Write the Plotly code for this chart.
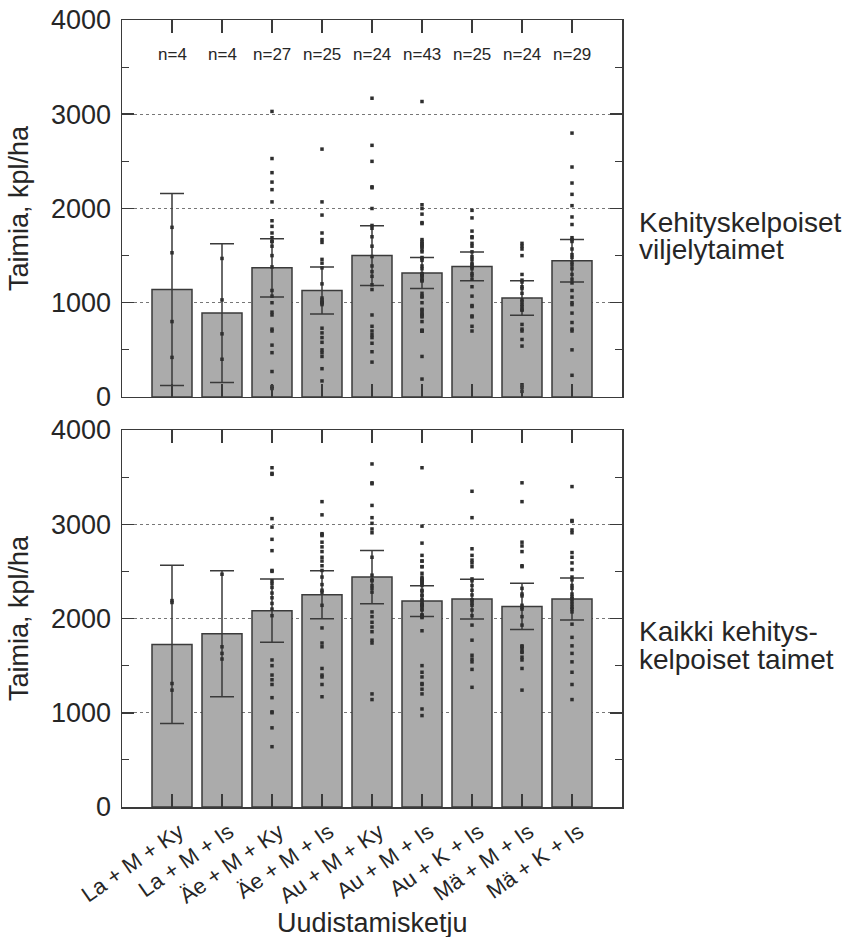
import plotly.graph_objects as go

categories = ["La + M + Ky", "La + M + Is", "Äe + M + Ky", "Äe + M + Is", "Au + M + Ky",
              "Au + M + Is", "Au + K + Is", "Mä + M + Is", "Mä + K + Is"]
n_counts = [4, 4, 27, 25, 24, 43, 25, 24, 29]

top_means = [1140, 890, 1370, 1130, 1500, 1315, 1385, 1050, 1445]
top_errors = [1018, 737, 308, 250, 316, 165, 152, 184, 226]
bottom_means = [1725, 1838, 2083, 2252, 2440, 2185, 2206, 2128, 2206]
bottom_errors = [840, 669, 335, 255, 283, 163, 211, 245, 223]

top_points = [
    [1800, 1530, 800, 420],
    [1470, 1030, 670, 400],
    [3030, 2530, 2380, 2280, 2200, 2070, 1870, 1810, 1740, 1690, 1650, 1650, 1600, 1500,
     1380, 1130, 1070, 1000, 900, 870, 720, 700, 550, 470, 270, 110, 90],
    [2630, 2070, 1930, 1740, 1670, 1640, 1420, 1370, 1200, 1050, 1030, 1010, 1000, 980,
     730, 680, 630, 580, 500, 470, 430, 300, 170, 1000, 1460],
    [3170, 2670, 2500, 2230, 2220, 2000, 1820, 1790, 1700, 1490, 1390, 1330, 1280, 1190,
     1140, 870, 750, 700, 660, 630, 570, 480, 370, 1600],
    [3135, 2040, 2000, 1940, 1850, 1840, 1670, 1650, 1630, 1600, 1590, 1560, 1540, 1480,
     1470, 1390, 1310, 1290, 1280, 1240, 1230, 1070, 1060, 930, 920, 890, 880, 860, 850,
     800, 710, 700, 700, 700, 430, 190, 1300, 1250, 1100, 1000, 1450, 1620, 1360],
    [1980, 1900, 1760, 1700, 1690, 1630, 1540, 1490, 1460, 1420, 1400, 1360, 1310, 1290,
     1170, 1070, 970, 960, 860, 850, 750, 700, 1600, 1250, 1380],
    [1630, 1600, 1570, 1500, 1300, 1240, 1170, 1150, 1100, 1030, 980, 960, 930, 920, 770,
     720, 700, 610, 540, 130, 100, 60, 1010, 1220],
    [2800, 2440, 2270, 2150, 2030, 1910, 1830, 1690, 1670, 1570, 1510, 1430, 1360, 1300,
     1210, 1130, 1060, 980, 890, 790, 700, 500, 230, 1650, 1480, 1400, 1250, 1000, 720],
]

bottom_points = [
    [2190, 2170, 1310, 1240],
    [2470, 1700, 1630, 1570],
    [3600, 3540, 3530, 3060, 2970, 2840, 2720, 2510, 2500, 2400, 2370, 2330, 2270, 2220,
     2160, 2100, 2030, 1560, 1500, 1400, 1350, 1300, 1160, 1010, 1000, 840, 640],
    [3240, 3100, 2900, 2890, 2880, 2810, 2760, 2710, 2650, 2610, 2560, 2510, 2440, 2360,
     2280, 2140, 1900, 1740, 1700, 1470, 1400, 1380, 1300, 1170, 2300],
    [3640, 3440, 3430, 3200, 3070, 3010, 2950, 2910, 2650, 2460, 2410, 2350, 2320, 2280,
     2070, 2020, 1960, 1910, 1860, 1770, 1740, 1200, 1140, 2400],
    [3600, 2980, 2800, 2670, 2610, 2610, 2550, 2550, 2480, 2440, 2410, 2400, 2380, 2370,
     2350, 2300, 2290, 2250, 2240, 2200, 2190, 2150, 2140, 2140, 2130, 2100, 2090, 2040,
     2030, 2020, 2010, 1870, 1500, 1430, 1380, 1310, 1300, 1250, 1200, 1040, 970, 2420, 2160],
    [3350, 3070, 2740, 2670, 2620, 2590, 2550, 2420, 2400, 2350, 2300, 2250, 2190, 2140,
     2090, 2030, 1930, 1770, 1610, 1570, 1540, 1460, 1270, 2200, 2160],
    [3440, 3240, 2810, 2770, 2710, 2560, 2550, 2320, 2240, 2140, 2100, 2020, 1930, 1710,
     1680, 1640, 1590, 1560, 1470, 1240, 2120, 2260, 1700, 1650],
    [3400, 3040, 3030, 2940, 2910, 2700, 2650, 2590, 2520, 2440, 2410, 2350, 2320, 2260,
     2210, 2180, 2120, 2070, 1940, 1800, 1710, 1630, 1540, 1430, 1300, 1140, 2150, 2100, 2230],
]

y_ticks = [0, 1000, 2000, 3000, 4000]
y_title = "Taimia, kpl/ha"
x_title = "Uudistamisketju"
top_label_lines = ["Kehityskelpoiset", "viljelytaimet"]
bottom_label_lines = ["Kaikki kehitys-", "kelpoiset taimet"]

FONT = "Liberation Sans, Arial, Helvetica, sans-serif"
DARK = "#3a3a3a"
TXT = "#262626"
BAR = "#ababab"

fig = go.Figure()


def add_panel(means, errors, points, xa, ya):
    fig.add_trace(go.Bar(
        x=categories, y=means, xaxis=xa, yaxis=ya, width=0.8,
        marker=dict(color=BAR, line=dict(color=DARK, width=1.5)),
        error_y=dict(type="data", array=errors, visible=True, color=DARK,
                     thickness=1.5, width=12),
        showlegend=False, hoverinfo="skip"))
    px, py = [], []
    for cat, vals in zip(categories, points):
        px += [cat] * len(vals)
        py += vals
    fig.add_trace(go.Scatter(
        x=px, y=py, xaxis=xa, yaxis=ya, mode="markers",
        marker=dict(symbol="square", size=3.5, color="#2e2e2e", line=dict(width=0)),
        showlegend=False, hoverinfo="skip"))


add_panel(top_means, top_errors, top_points, "x", "y")
add_panel(bottom_means, bottom_errors, bottom_points, "x2", "y2")

yaxis_common = dict(
    range=[0, 4000], tickvals=y_ticks, ticks="inside", ticklen=12, tickwidth=1.5,
    tickcolor=DARK, showline=True, linecolor=DARK, linewidth=1.5, mirror="ticks",
    showgrid=True, gridcolor="#777777", griddash="dot", gridwidth=1, zeroline=False,
    automargin=False, ticklabelstandoff=4,
    tickfont=dict(family=FONT, size=27, color=TXT),
    minor=dict(dtick=500, ticks="inside", ticklen=7, tickwidth=1.2, tickcolor=DARK,
               showgrid=False),
    title=dict(text=y_title, font=dict(family=FONT, size=27, color=TXT), standoff=14),
)
xaxis_common = dict(
    range=[-1, 9], ticks="inside", ticklen=13, tickwidth=1.5, tickcolor=DARK,
    showline=True, linecolor=DARK, linewidth=1.5, mirror="ticks", showgrid=False,
    zeroline=False, automargin=False,
)

fig.update_layout(
    width=856, height=937,
    margin=dict(l=122, r=234, t=20, b=130),
    paper_bgcolor="white", plot_bgcolor="white",
    bargap=0.2,
    xaxis=dict(**xaxis_common, domain=[0, 1], anchor="y", showticklabels=False),
    yaxis=dict(**yaxis_common, domain=[0.521, 1], anchor="x"),
    xaxis2=dict(**xaxis_common, domain=[0, 1], anchor="y2", showticklabels=True,
                tickangle=-35, ticklabelshift=7, ticklabelstandoff=2,
                tickfont=dict(family=FONT, size=22, color=TXT)),
    yaxis2=dict(**yaxis_common, domain=[0, 0.479], anchor="x2"),
)

for cat, n in zip(categories, n_counts):
    fig.add_annotation(x=cat, y=3630, xref="x", yref="y", text=f"n={n}", showarrow=False,
                       font=dict(family=FONT, size=17, color=TXT))

# right-hand panel labels (one annotation per line for tight line spacing)
for i, line in enumerate(top_label_lines):
    fig.add_annotation(x=1.032, y=1850 - i * 290, xref="paper", yref="y", text=line,
                       showarrow=False, xanchor="left", yanchor="middle", borderpad=0,
                       font=dict(family=FONT, size=28, color=TXT))
for i, line in enumerate(bottom_label_lines):
    fig.add_annotation(x=1.032, y=1860 - i * 290, xref="paper", yref="y2", text=line,
                       showarrow=False, xanchor="left", yanchor="middle", borderpad=0,
                       font=dict(family=FONT, size=28, color=TXT))

fig.add_annotation(x=0.5, y=-0.148, xref="paper", yref="paper", text=x_title,
                   showarrow=False, xanchor="center", yanchor="middle",
                   font=dict(family=FONT, size=27, color=TXT))

fig.write_html("out.html", config={"displayModeBar": False, "staticPlot": True},
               post_script="document.body.style.margin='0';document.body.style.overflow='hidden';")
